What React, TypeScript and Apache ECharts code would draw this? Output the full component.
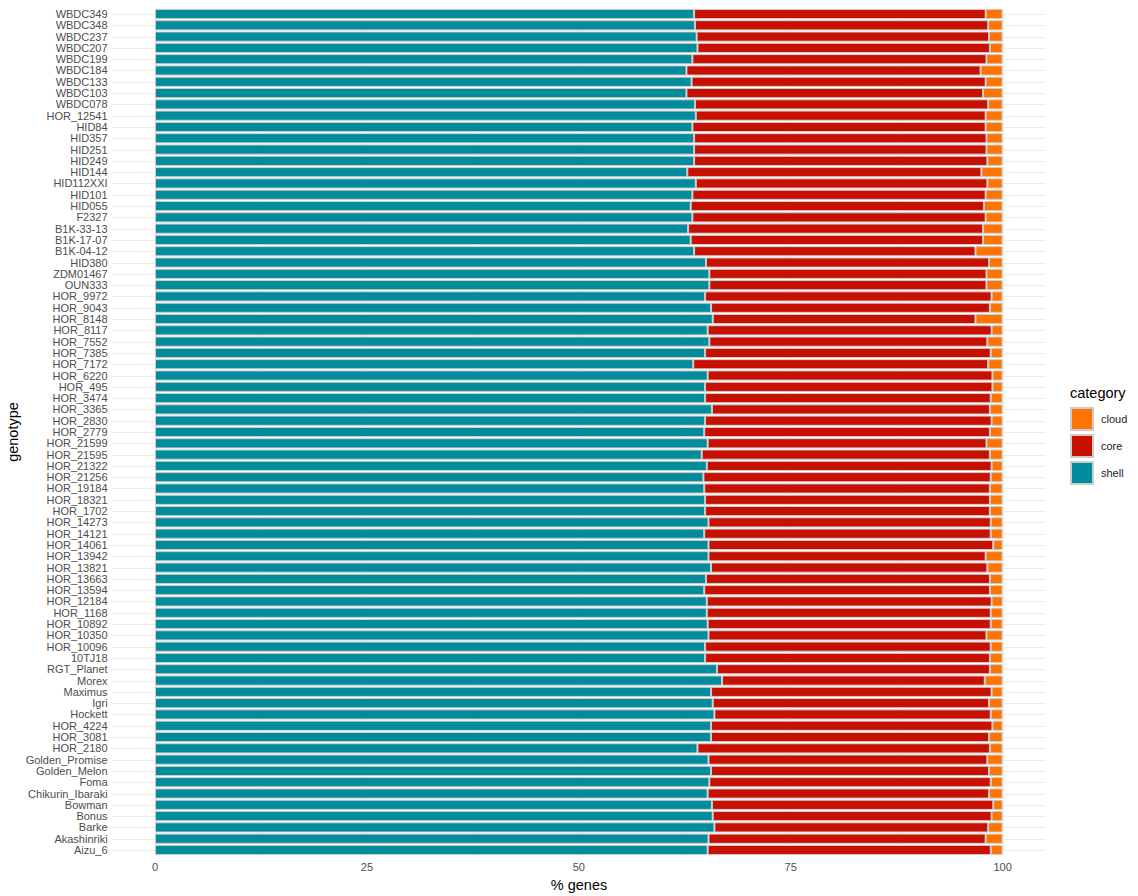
import React, { useEffect, useRef } from "react";
import * as echarts from "echarts";

const genotypes = [
  "WBDC349", "WBDC348", "WBDC237", "WBDC207", "WBDC199", "WBDC184", "WBDC133", "WBDC103", "WBDC078",
  "HOR_12541", "HID84", "HID357", "HID251", "HID249", "HID144", "HID112XXI", "HID101", "HID055",
  "F2327", "B1K-33-13", "B1K-17-07", "B1K-04-12", "HID380", "ZDM01467", "OUN333",
  "HOR_9972", "HOR_9043", "HOR_8148", "HOR_8117", "HOR_7552", "HOR_7385", "HOR_7172", "HOR_6220",
  "HOR_495", "HOR_3474", "HOR_3365", "HOR_2830", "HOR_2779", "HOR_21599", "HOR_21595", "HOR_21322",
  "HOR_21256", "HOR_19184", "HOR_18321", "HOR_1702", "HOR_14273", "HOR_14121", "HOR_14061",
  "HOR_13942", "HOR_13821", "HOR_13663", "HOR_13594", "HOR_12184", "HOR_1168", "HOR_10892",
  "HOR_10350", "HOR_10096", "10TJ18", "RGT_Planet", "Morex", "Maximus", "Igri", "Hockett",
  "HOR_4224", "HOR_3081", "HOR_2180", "Golden_Promise", "Golden_Melon", "Foma", "Chikurin_Ibaraki",
  "Bowman", "Bonus", "Barke", "Akashinriki", "Aizu_6",
];

const shell = [
  63.6, 63.7, 63.9, 64.0, 63.4, 62.7, 63.3, 62.7, 63.7,
  63.8, 63.4, 63.6, 63.6, 63.6, 62.8, 63.8, 63.4, 63.2,
  63.4, 62.9, 63.2, 63.6, 65.0, 65.4, 65.4,
  64.9, 65.6, 65.8, 65.2, 65.4, 64.9, 63.5, 65.2,
  64.9, 64.9, 65.7, 64.9, 64.8, 65.2, 64.5, 65.1,
  64.7, 64.8, 64.9, 64.9, 65.3, 64.8, 65.3,
  65.3, 65.6, 65.0, 64.8, 65.1, 65.1, 65.2,
  65.3, 64.9, 64.9, 66.3, 66.9, 65.6, 65.8, 66.0,
  65.6, 65.6, 64.0, 65.3, 65.6, 65.4, 65.2,
  65.7, 65.8, 66.0, 65.3, 65.2,
];

const core = [
  34.4, 34.6, 34.5, 34.5, 34.7, 34.7, 34.7, 35.0, 34.6,
  34.2, 34.6, 34.5, 34.5, 34.6, 34.7, 34.4, 34.6, 34.6,
  34.6, 34.8, 34.5, 33.2, 33.4, 32.7, 32.7,
  33.8, 32.9, 31.0, 33.5, 32.8, 33.7, 34.8, 33.6,
  33.9, 33.7, 32.8, 33.8, 33.7, 32.9, 34.0, 33.6,
  33.9, 33.7, 33.6, 33.6, 33.3, 33.8, 33.6,
  32.7, 32.6, 33.5, 33.7, 33.6, 33.5, 33.4,
  32.8, 33.7, 33.6, 32.2, 31.0, 33.1, 32.6, 32.6,
  33.2, 32.8, 34.5, 32.9, 32.8, 33.2, 33.2,
  33.2, 32.9, 32.3, 32.7, 33.4,
];

const cloud = [
  2.0, 1.7, 1.6, 1.5, 1.9, 2.6, 2.0, 2.3, 1.7,
  2.0, 2.0, 1.9, 1.9, 1.8, 2.5, 1.8, 2.0, 2.2,
  2.0, 2.3, 2.3, 3.2, 1.6, 1.9, 1.9,
  1.3, 1.5, 3.2, 1.3, 1.8, 1.4, 1.7, 1.2,
  1.2, 1.4, 1.5, 1.3, 1.5, 1.9, 1.5, 1.3,
  1.4, 1.5, 1.5, 1.5, 1.4, 1.4, 1.1,
  2.0, 1.8, 1.5, 1.5, 1.3, 1.4, 1.4,
  1.9, 1.4, 1.5, 1.5, 2.1, 1.3, 1.6, 1.4,
  1.2, 1.6, 1.5, 1.8, 1.6, 1.4, 1.6,
  1.1, 1.3, 1.7, 2.0, 1.4,
];

const categories = ["cloud", "core", "shell"];
const xTickLabels = [0, 25, 50, 75, 100];
const xGridMajor = [0, 25, 50, 75, 100];
const xGridMinor = [12.5, 37.5, 62.5, 87.5];

const FONT = "'Liberation Sans', Arial, Helvetica, sans-serif";
const COLORS: Record<string, string> = { cloud: "#FF7300", core: "#C81000", shell: "#008C9C" };

export default function App() {
  const ref = useRef<HTMLDivElement>(null);

  useEffect(() => {
    const chart = echarts.init(ref.current!, null, { renderer: "svg" });

    const barSeries = (name: string, values: number[]) => ({
      type: "bar",
      name,
      stack: "total",
      data: values,
      barWidth: "90%",
      z: 3,
      itemStyle: { color: COLORS[name], borderColor: "#CCCCCC", borderWidth: 1 },
      emphasis: { disabled: true },
    });

    const option: any = {
      animation: false,
      textStyle: { fontFamily: FONT },
      grid: { left: 112.6, right: 93, top: 8.35, bottom: 40.35 },
      xAxis: {
        type: "value",
        min: -5,
        max: 105,
        interval: 2.5,
        axisLine: { show: false },
        axisTick: { show: false },
        splitLine: { show: false },
        axisLabel: {
          color: "#4D4D4D",
          fontSize: 11,
          fontFamily: FONT,
          margin: 6,
          formatter: (v: number) => {
            const hit = xTickLabels.find((t) => Math.abs(t - v) < 1e-6);
            return hit === undefined ? "" : String(hit);
          },
        },
      },
      yAxis: {
        type: "category",
        data: genotypes,
        inverse: true,
        axisLine: { show: false },
        axisTick: { show: false },
        splitLine: { show: false },
        axisLabel: { color: "#4D4D4D", fontSize: 11, fontFamily: FONT, margin: 5, interval: 0 },
      },
      legend: {
        data: categories,
        orient: "vertical",
        left: 1070,
        top: 407,
        padding: 0,
        itemWidth: 22,
        itemHeight: 22,
        itemGap: 3,
        icon: "rect",
        selectedMode: false,
        textStyle: { fontSize: 11, color: "#1A1A1A", fontFamily: FONT, padding: [0, 0, 0, 3] },
      },
      graphic: [
        {
          type: "text",
          left: 1070,
          top: 385,
          style: { text: "category", fontSize: 14.5, fill: "#000", fontFamily: FONT },
        },
        {
          type: "text",
          x: 13,
          y: 432,
          rotation: Math.PI / 2,
          style: {
            text: "genotype",
            fontSize: 14.5,
            fill: "#000",
            fontFamily: FONT,
            textAlign: "center",
            textVerticalAlign: "middle",
          },
        },
        {
          type: "text",
          x: 579,
          y: 885,
          style: {
            text: "% genes",
            fontSize: 14.5,
            fill: "#000",
            fontFamily: FONT,
            textAlign: "center",
            textVerticalAlign: "middle",
          },
        },
      ],
      series: [
        {
          type: "custom",
          name: "hgrid",
          silent: true,
          z: 1,
          data: genotypes.map((g, i) => [0, i]),
          renderItem: (params: any, api: any) => {
            const cs = params.coordSys;
            const y = Math.round(api.coord([0, api.value(1)])[1]) + 0.5;
            return {
              type: "line",
              shape: { x1: cs.x, y1: y, x2: cs.x + cs.width, y2: y },
              style: { stroke: "#EBEBEB", lineWidth: 1 },
            };
          },
        },
        {
          type: "custom",
          name: "vgrid",
          silent: true,
          z: 1,
          data: [...xGridMajor.map((v) => [v, 0, 1]), ...xGridMinor.map((v) => [v, 0, 0])],
          renderItem: (params: any, api: any) => {
            const cs = params.coordSys;
            const x = Math.round(api.coord([api.value(0), 0])[0]) + 0.5;
            const major = api.value(2) === 1;
            return {
              type: "line",
              shape: { x1: x, y1: cs.y, x2: x, y2: cs.y + cs.height },
              style: { stroke: major ? "#EBEBEB" : "#F3F3F3", lineWidth: 1 },
            };
          },
        },
        barSeries("shell", shell),
        barSeries("core", core),
        barSeries("cloud", cloud),
      ],
    };

    chart.setOption(option);
    return () => chart.dispose();
  }, []);

  return (
    <div
      ref={ref}
      style={{ position: "absolute", left: 0, top: 0, width: 1138, height: 896 }}
    />
  );
}
